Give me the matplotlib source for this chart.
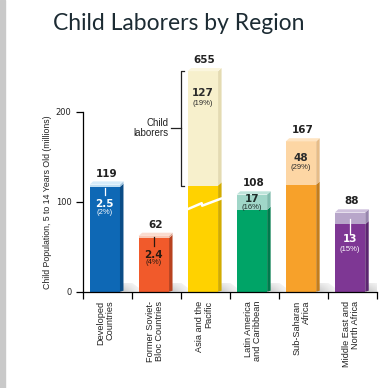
import numpy as np
import matplotlib
matplotlib.use('Agg')
import matplotlib.pyplot as plt
from matplotlib.patches import Polygon, Rectangle

# data
regions = ['Developed\nCountries', 'Former Soviet-\nBloc Countries', 'Asia and the\nPacific',
           'Latin America\nand Caribbean', 'Sub-Saharan\nAfrica', 'Middle East and\nNorth Africa']
totals = [119, 62, 655, 108, 167, 88]
laborers = [2.5, 2.4, 127, 17, 48, 13]
pct_labels = ['(2%)', '(4%)', '(19%)', '(16%)', '(29%)', '(15%)']
value_labels = ['2.5', '2.4', '127', '17', '48', '13']
yticks = [0, 100, 200]

# colours: front, side, light front, light side
front = ['#0E68B5', '#F15A2B', '#FFD200', '#00A467', '#F7A12A', '#7E3794']
side = ['#0A4C86', '#B8421F', '#D2AC00', '#007A4C', '#C47D1C', '#5C2670']
light = ['#C2E0F4', '#F8C8B6', '#F7F0CC', '#A0D6C8', '#FDD6A4', '#B8A6CA']
light_side = ['#9CC2DE', '#DDA894', '#E4DBB2', '#80BBAD', '#E6BC88', '#9886AE']
top_face = ['#D6ECFA', '#FBDCD0', '#FBF6DE', '#BEE4DA', '#FEE4C2', '#CFC1DD']

asia_break_height = 118   # shown height of the broken (non-laborer) part of Asia
txt_col = ['white', '#2A1A10', '#2A2A2A', '#1E2E2A', '#2A2A2A', 'white']
line_col = ['white', '#2A1A10', None, None, None, 'white']
conn = [(3, 10), (1, 10), None, None, None, (6, 21)]   # px below top
val_off = [19, 19, 22, 5, 17, 27]
pct_off = [28, 27, 32, 13, 26, 37]

W, H = 390, 388
fig = plt.figure(figsize=(W / 100, H / 100), dpi=100)
fig.patches.append(Rectangle((0, 0), 5 / W, 1, transform=fig.transFigure,
                             color='#C9C9C9', zorder=0))

ax_left, ax_right, ax_y0, ax_top = 82.7, 377, 291.7, 40
ax = fig.add_axes([ax_left / W, (H - ax_y0) / H, (ax_right - ax_left) / W, (ax_y0 - ax_top) / H])
py = 0.9  # px per unit
ax.set_xlim(-0.5, 5.5)
ax.set_ylim(0, (ax_y0 - ax_top) / py)
pxx = 6 / (ax_right - ax_left)  # data x per px
pxy = 1 / py

narrow = ['Liberation Sans Narrow', 'Liberation Sans', 'DejaVu Sans']

x = np.arange(len(regions))
width = 0.62
xc = x - 0.05
dx, dy = 3.5 * pxx, 3.2 * pxy

base = [t - l for t, l in zip(totals, laborers)]
base[2] = asia_break_height
tops = [b + l for b, l in zip(base, laborers)]

ax.bar(xc, base, width, color=front, zorder=3)
ax.bar(xc, laborers, width, bottom=base, color=light, zorder=3)

# shadow image: grey fading out to the right and upward
gx = np.linspace(1, 0, 64)[None, :]
gy = np.linspace(1, 0.4, 16)[:, None]
shade = np.zeros((16, 64, 4))
shade[..., :3] = 0.55
shade[..., 3] = 0.55 * gx * gy
for i in range(len(x)):
    x0, x1 = xc[i] - width / 2, xc[i] + width / 2
    # floor shadow
    sh = Polygon([(x1, 0), (x1 + dx, 9 * pxy), (x1 + 12 * pxx, 9 * pxy), (x1 + 24 * pxx, 0)],
                 closed=True, facecolor='none', edgecolor='none')
    ax.add_patch(sh)
    im = ax.imshow(shade, aspect='auto', origin='lower',
                   extent=(x1, x1 + 24 * pxx, 0, 9 * pxy), zorder=2, interpolation='bilinear')
    im.set_clip_path(sh)
    # side faces
    ax.add_patch(Polygon([(x1, 0), (x1 + dx, dy * 0.3), (x1 + dx, base[i] + dy), (x1, base[i])],
                         closed=True, color=side[i], lw=0, zorder=3))
    ax.add_patch(Polygon([(x1, base[i]), (x1 + dx, base[i] + dy), (x1 + dx, tops[i] + dy), (x1, tops[i])],
                         closed=True, color=light_side[i], lw=0, zorder=3))
    # top face
    ax.add_patch(Polygon([(x0, tops[i]), (x1, tops[i]), (x1 + dx, tops[i] + dy), (x0 + dx, tops[i] + dy)],
                         closed=True, color=top_face[i], lw=0, zorder=3))
    # total label
    ax.annotate(str(totals[i]), (xc[i] + dx / 2, tops[i]), xytext=(0, 11), textcoords='offset pixels',
                ha='center', va='center', fontsize=7.5, fontweight='bold', color='#222222', zorder=5)
    # inner labels
    if conn[i] is not None:
        ax.plot([xc[i], xc[i]], [tops[i] - conn[i][0] * pxy, tops[i] - conn[i][1] * pxy],
                color=line_col[i], lw=0.9, zorder=5)
    ax.annotate(value_labels[i], (xc[i], tops[i]), xytext=(0, -val_off[i]), textcoords='offset pixels',
                ha='center', va='center', fontsize=7.5, fontweight='bold', color=txt_col[i], zorder=5)
    ax.annotate(pct_labels[i], (xc[i], tops[i]), xytext=(0, -pct_off[i]), textcoords='offset pixels',
                ha='center', va='center', fontsize=5.5, color=txt_col[i], zorder=5, family=narrow)
    # category label
    ax.annotate(regions[i], (xc[i] + 0.02, 0), xytext=(0, -9), textcoords='offset pixels',
                rotation=90, ha='center', va='top', multialignment='right',
                fontsize=6.6, color='#222222', family=narrow, linespacing=1.05)

# break mark on Asia bar
bx0 = xc[2] - width / 2
yb = 95
ax.plot([bx0, bx0 + 14 * pxx, bx0 + 14.5 * pxx, bx0 + 31 * pxx + dx],
        [yb - 3 * pxy, yb + 3 * pxy, yb + 0.5 * pxy, yb + 8 * pxy],
        color='white', lw=1.8, zorder=4, solid_capstyle='butt')

# bracket for child laborers
bxl = 1.512
b0, b1 = base[2], tops[2]
ax.plot([bxl + 3 * pxx, bxl, bxl, bxl + 3 * pxx], [b0, b0, b1, b1], color='#222222', lw=0.9, zorder=5)
bm = (b0 + b1) / 2
ax.plot([bxl - 10 * pxx, bxl], [bm, bm], color='#222222', lw=0.9, zorder=5)
ax.text(bxl - 13 * pxx, bm, 'Child\nlaborers', ha='right', va='center', fontsize=7,
        color='#222222', linespacing=1.0, family=narrow)

# axes styling
for s in ['top', 'right']:
    ax.spines[s].set_visible(False)
ax.spines['left'].set_bounds(0, 200)
ax.spines['left'].set_linewidth(0.9)
ax.spines['bottom'].set_linewidth(0.9)
ax.spines['left'].set_zorder(6)
ax.spines['bottom'].set_zorder(6)
ax.set_yticks(yticks)
ax.set_yticklabels([str(v) for v in yticks], fontsize=6, color='#222222')
ax.tick_params(axis='y', length=5, width=0.9, pad=3)
ax.set_xticks(np.arange(-0.5, 6, 1))
ax.set_xticklabels([])
ax.tick_params(axis='x', length=5, width=0.9, direction='out')
ax.set_ylabel('Child Population, 5 to 14 Years Old (millions)', fontsize=6.3, family=narrow,
              color='#222222')
ax.yaxis.set_label_coords(-(82.7 - 52) / (ax_right - ax_left), (ax_y0 - 202) / (ax_y0 - ax_top))

fig.text(53 / W, 1 - 24 / H, 'Child Laborers by Region', fontsize=16.5, family=['Lato', 'DejaVu Sans'],
         color='#1C2B33', ha='left', va='center')

fig.savefig('out.png', dpi=100)
